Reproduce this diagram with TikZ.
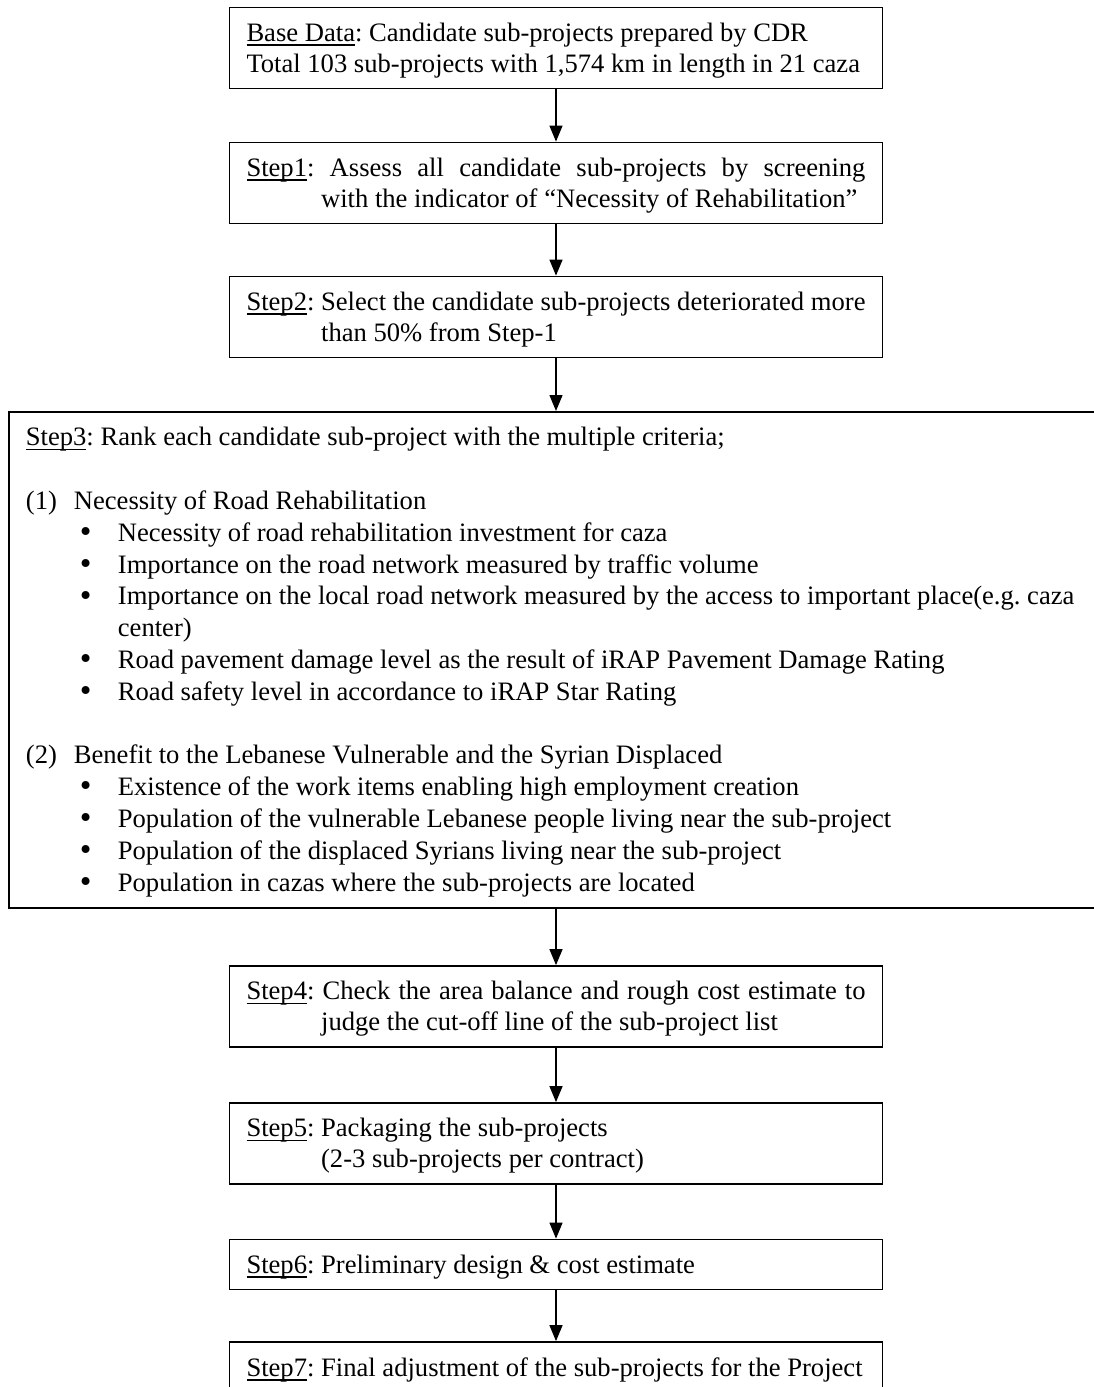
\documentclass[tikz,border=0pt]{standalone}
\usepackage{fontspec}
\usepackage{graphicx}
\setmainfont{Liberation Serif}
\usetikzlibrary{arrows.meta}
\frenchspacing

% word-processor style underline, close under the baseline
\newcommand\stepul[1]{\setbox0\hbox{#1}\rlap{\rule[-4.5pt]{\wd0}{1.4pt}}\box0}
% line strut: 24pt above, 7pt below the baseline
\newcommand\lstrut{\rule[-7pt]{0pt}{31pt}}
\newlength\labw
% "StepN: text" with the following lines hanging under the text
\newcommand\steptext[2]{\parbox{619pt}{\settowidth{\labw}{#1:\ }%
  \hangindent=\labw\hangafter=1\noindent\lstrut\stepul{#1}:\ #2\lstrut}}
% list bullet and one item line of the criteria list
\newcommand\bulletmark{\raisebox{-1.2pt}{\scalebox{1.25}{•}}}
\newcommand\critem[1]{\hspace*{54pt}\makebox[38pt][l]{\bulletmark}#1\par}

\tikzset{
  flowbox/.style={draw, line width=1.8pt, inner xsep=17pt, inner ysep=0pt,
    minimum height=81pt,
    font=\fontsize{26.6pt}{31pt}\selectfont},
  widebox/.style={draw, line width=1.8pt, inner xsep=17pt, inner ysep=0pt,
    minimum height=496pt, anchor=north west,
    font=\fontsize{26.6pt}{31.8pt}\selectfont},
  flowarrow/.style={-{Triangle[width=13pt,length=16pt]}, line width=1.4pt},
}

\begin{document}
\begin{tikzpicture}[x=1pt,y=-1pt]
\useasboundingbox (0,0) rectangle (1094,1387);

\node[flowbox] (base) at (556,48)
  {\parbox{619pt}{\noindent\lstrut\stepul{Base Data}: Candidate sub-projects prepared by CDR\\
   Total 103 sub-projects with 1,574 km in length in 21 caza\lstrut}};

\node[flowbox] (s1) at (556,183)
  {\steptext{Step1}{Assess all candidate sub-projects by screening\linebreak
   with the indicator of “Necessity of Rehabilitation”}};

\node[flowbox] (s2) at (556,317)
  {\steptext{Step2}{Select the candidate sub-projects deteriorated more\linebreak
   than 50\% from Step-1}};

\node[widebox] (s3) at (8,411)
  {\parbox{1088pt}{\parindent=0pt
   \lstrut\stepul{Step3}: Rank each candidate sub-project with the multiple criteria;\par
   \lstrut\par
   \makebox[48pt][l]{(1)}Necessity of Road Rehabilitation\par
   \critem{Necessity of road rehabilitation investment for caza}
   \critem{Importance on the road network measured by traffic volume}
   \critem{Importance on the local road network measured by the access to important place(e.g. caza}
   \hspace*{92pt}center)\par
   \critem{Road pavement damage level as the result of iRAP Pavement Damage Rating}
   \critem{Road safety level in accordance to iRAP Star Rating}
   \lstrut\par
   \makebox[48pt][l]{(2)}Benefit to the Lebanese Vulnerable and the Syrian Displaced\par
   \critem{Existence of the work items enabling high employment creation}
   \critem{Population of the vulnerable Lebanese people living near the sub-project}
   \critem{Population of the displaced Syrians living near the sub-project}
   \hspace*{54pt}\makebox[38pt][l]{\bulletmark}Population in cazas where the sub-projects are located\lstrut}};

\node[flowbox] (s4) at (556,1006.5)
  {\steptext{Step4}{Check the area balance and rough cost estimate to\linebreak
   judge the cut-off line of the sub-project list}};

\node[flowbox] (s5) at (556,1143.5)
  {\steptext{Step5}{Packaging the sub-projects\\
   (2-3 sub-projects per contract)}};

\node[flowbox, minimum height=50pt] (s6) at (556,1264.5)
  {\steptext{Step6}{Preliminary design \& cost estimate}};

\node[flowbox, minimum height=51pt] (s7) at (556,1367.5)
  {\steptext{Step7}{Final adjustment of the sub-projects for the Project}};

\draw[flowarrow] (base) -- (s1);
\draw[flowarrow] (s1) -- (s2);
\draw[flowarrow] (s2.south) -- (s2.south |- s3.north);
\draw[flowarrow] (s3.south -| s4.north) -- (s4.north);
\draw[flowarrow] (s4) -- (s5);
\draw[flowarrow] (s5) -- (s6);
\draw[flowarrow] (s6) -- (s7);
\end{tikzpicture}
\end{document}
